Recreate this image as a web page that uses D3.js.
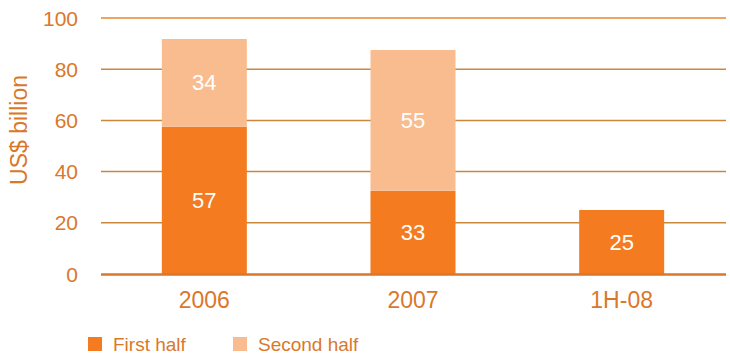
<!DOCTYPE html>
<html><head><meta charset="utf-8">
<script src="https://cdn.jsdelivr.net/npm/d3@7"></script>
<style>body{margin:0;background:#fff}svg{display:block;font-family:"Liberation Sans",Arial,sans-serif}</style>
</head><body><svg id="c" width="730" height="356"></svg>
<script>
const categories = ["2006", "2007", "1H-08"];
const firstHalf = [57.5, 32.5, 25];
const secondHalf = [34.3, 55, 0];
const firstLabels = ["57", "33", "25"];
const secondLabels = ["34", "55", ""];
const yTicks = [0, 20, 40, 60, 80, 100];
const seriesNames = ["First half", "Second half"];
const colors = ["#F47B20", "#F9BC8F"];
const textColor = "#D9782B";

const svg = d3.select("#c");
const x = d3.scaleBand().domain(categories).range([100, 726]).padding(0);
const y = d3.scaleLinear().domain([0, 100]).range([274, 18]);
const barW = 85;

// gridlines
svg.append("g").selectAll("line").data(yTicks.filter(d => d > 0)).join("line")
  .attr("x1", 101).attr("x2", 726)
  .attr("y1", d => y(d)).attr("y2", d => y(d))
  .attr("stroke", d => d === 100 ? "#E8862F" : "#C9873C").attr("stroke-width", 1.5);

// y tick labels
svg.append("g").selectAll("text").data(yTicks).join("text")
  .attr("x", 78).attr("y", d => y(d) + 7.5)
  .attr("text-anchor", "end").attr("font-size", 21).attr("fill", textColor)
  .text(d => d);

const data = categories.map((c, i) => ({c, a: firstHalf[i], b: secondHalf[i], la: firstLabels[i], lb: secondLabels[i]}));
const g = svg.append("g");
g.selectAll("rect.a").data(data).join("rect").attr("class", "a")
  .attr("x", d => x(d.c) + x.bandwidth() / 2 - barW / 2).attr("width", barW)
  .attr("y", d => y(d.a)).attr("height", d => y(0) - y(d.a)).attr("fill", colors[0]);
g.selectAll("rect.b").data(data.filter(d => d.b > 0)).join("rect").attr("class", "b")
  .attr("x", d => x(d.c) + x.bandwidth() / 2 - barW / 2).attr("width", barW)
  .attr("y", d => y(d.a + d.b)).attr("height", d => y(d.a) - y(d.a + d.b)).attr("fill", colors[1]);

g.selectAll("text.a").data(data).join("text").attr("class", "a")
  .attr("x", d => x(d.c) + x.bandwidth() / 2).attr("y", d => y(d.a / 2) + 7.5)
  .attr("text-anchor", "middle").attr("font-size", 22).attr("fill", "#fff").text(d => d.la);
g.selectAll("text.b").data(data.filter(d => d.b > 0)).join("text").attr("class", "b")
  .attr("x", d => x(d.c) + x.bandwidth() / 2).attr("y", d => y(d.a + d.b / 2) + 7.5)
  .attr("text-anchor", "middle").attr("font-size", 22).attr("fill", "#fff").text(d => d.lb);

// zero axis
svg.append("line").attr("x1", 101).attr("x2", 726).attr("y1", y(0) + 0.5).attr("y2", y(0) + 0.5)
  .attr("stroke", "#D9772A").attr("stroke-width", 2.5);

// x labels
svg.append("g").selectAll("text").data(categories).join("text")
  .attr("x", d => x(d) + x.bandwidth() / 2).attr("y", 308)
  .attr("text-anchor", "middle").attr("font-size", 23).attr("fill", textColor).text(d => d);

// y title
svg.append("text").attr("transform", "translate(27,130) rotate(-90)")
  .attr("text-anchor", "middle").attr("font-size", 23).attr("fill", textColor).text("US$ billion");

// legend
const lx = [88, 233];
const lg = svg.append("g").selectAll("g").data(seriesNames).join("g")
  .attr("transform", (d, i) => `translate(${lx[i]},0)`);
lg.append("rect").attr("x", 0).attr("y", 337).attr("width", 14).attr("height", 14).attr("fill", (d, i) => colors[i]);
lg.append("text").attr("x", 25).attr("y", 351).attr("font-size", 19).attr("fill", textColor).text(d => d);
</script></body></html>
